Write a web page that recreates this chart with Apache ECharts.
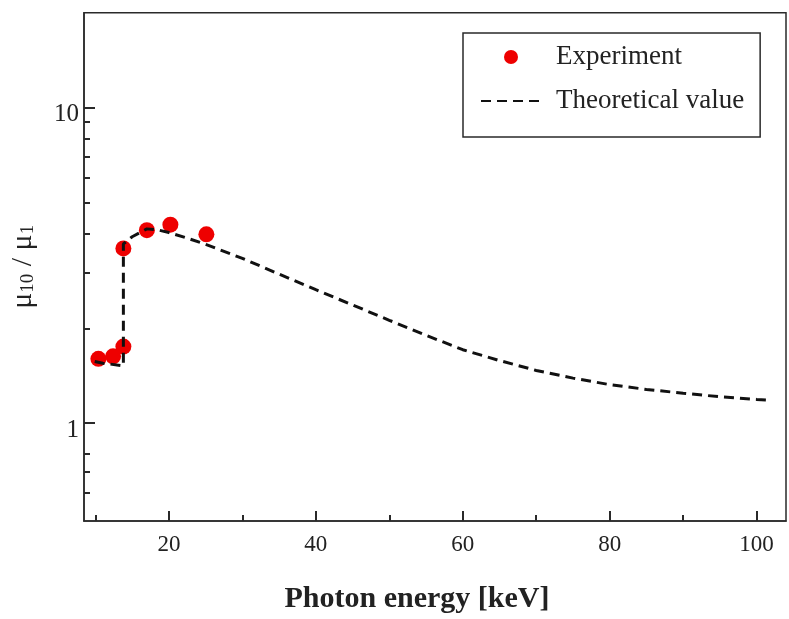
<!DOCTYPE html>
<html><head><meta charset="utf-8">
<script src="https://cdn.jsdelivr.net/npm/echarts@6/dist/echarts.min.js"></script>
<style>html,body{margin:0;padding:0;background:#fff}#c{width:789px;height:619px}</style>
</head><body><div id="c"></div>
<script>
// Experimental points
const expX = [10.4, 12.4, 13.8, 13.8, 17.0, 20.2, 25.1];
const expY = [1.60, 1.63, 1.75, 3.58, 4.09, 4.26, 3.97];
// Theoretical curve
const theoX = [9.9, 11, 12, 13.8, 13.8, 15, 17, 18.5, 20, 22.5, 25, 30, 35, 40, 45, 50, 55, 60, 65, 70, 75, 80, 85, 90, 95, 100, 101.8];
const theoY = [1.57, 1.55, 1.54, 1.52, 3.70, 3.90, 4.13, 4.10, 4.02, 3.86, 3.69, 3.33, 2.97, 2.65, 2.37, 2.12, 1.90, 1.71, 1.58, 1.47, 1.39, 1.325, 1.28, 1.245, 1.213, 1.19, 1.183];
// Ticks
const xMajor = [20, 40, 60, 80, 100];
const xMinor = [10, 30, 50, 70, 90];
const yMajor = [1, 10];
const yMinor = [0.6, 0.7, 0.8, 2, 3, 4, 5, 6, 7, 8, 9];

const FONT = '"Liberation Serif", "DejaVu Serif", serif';
const frame = '#2a2a2a';
const chart = echarts.init(document.getElementById('c'), null, {renderer: 'canvas'});
const xBase = {type: 'value', min: 8.44, max: 104, position: 'bottom', splitLine: {show: false}};
const yBase = {type: 'log', logBase: 10, min: 0.49, max: 20, position: 'left', splitLine: {show: false}};
chart.setOption({
  animation: false,
  backgroundColor: '#fff',
  grid: {left: 82.5, top: 12.7, right: 3, bottom: 98, show: true, borderColor: frame, borderWidth: 1.5, containLabel: false},
  legend: {
    orient: 'vertical', left: 463, top: 33,
    data: [
      {name: 'Experiment'},
      {name: 'Theoretical value', itemStyle: {color: 'rgba(0,0,0,0)', borderWidth: 0}}
    ],
    itemWidth: 60, itemHeight: 14, itemGap: 14,
    padding: [9, 16, 21, 17],
    borderColor: frame, borderWidth: 1.5,
    textStyle: {fontFamily: FONT, fontSize: 27, color: '#222', padding: [0, 0, 0, 10], lineHeight: 30}
  },
  xAxis: [
    Object.assign({}, xBase, {
      name: 'Photon energy [keV]', nameLocation: 'middle', nameGap: 63,
      nameTextStyle: {fontFamily: FONT, fontSize: 30, fontWeight: 'bold', color: '#222', padding: [0, 36, 0, 0]},
      axisLine: {show: true, onZero: false, lineStyle: {color: frame, width: 1.5}},
      axisTick: {show: true, inside: true, length: 10, customValues: xMajor, lineStyle: {color: frame, width: 2}},
      axisLabel: {show: true, customValues: xMajor, fontFamily: FONT, fontSize: 23, color: '#222', margin: 12}
    }),
    Object.assign({}, xBase, {
      axisLine: {show: false},
      axisTick: {show: true, inside: true, length: 6, customValues: xMinor, lineStyle: {color: frame, width: 2}},
      axisLabel: {show: false}
    })
  ],
  yAxis: [
    Object.assign({}, yBase, {
      name: '{m|μ}{s|10}{m| / μ}{s|1}', nameLocation: 'middle', nameGap: 46, nameRotate: 90,
      nameTextStyle: {fontFamily: FONT, color: '#222', rich: {
        m: {fontFamily: FONT, fontSize: 30, color: '#222'},
        s: {fontFamily: FONT, fontSize: 19, color: '#222', verticalAlign: 'bottom', padding: [10, 0, 0, 0]}
      }},
      axisLine: {show: true, onZero: false, lineStyle: {color: frame, width: 1.5}},
      axisTick: {show: true, inside: true, length: 11, customValues: yMajor, lineStyle: {color: frame, width: 2}},
      axisLabel: {show: true, customValues: yMajor, margin: 5,
        formatter: function (v) { return '{a|' + v + '}'; },
        rich: {a: {fontFamily: FONT, fontSize: 25, color: '#222', padding: [14, 0, 0, 0]}}}
    }),
    Object.assign({}, yBase, {
      axisLine: {show: false},
      axisTick: {show: true, inside: true, length: 6, customValues: yMinor, lineStyle: {color: frame, width: 2}},
      axisLabel: {show: false}
    })
  ],
  series: [
    {
      name: 'Experiment', type: 'scatter', xAxisIndex: 0, yAxisIndex: 0,
      data: expX.map((x, i) => [x, expY[i]]),
      symbol: 'circle', symbolSize: 16,
      itemStyle: {color: '#ee0000', opacity: 1}
    },
    {
      name: 'Theoretical value', type: 'line', xAxisIndex: 0, yAxisIndex: 0,
      data: theoX.map((x, i) => [x, theoY[i]]),
      showSymbol: false, symbol: 'none', smooth: false,
      lineStyle: {color: '#111', width: 3, type: [10, 6]},
      itemStyle: {color: '#111'}
    }
  ]
});
</script></body></html>
